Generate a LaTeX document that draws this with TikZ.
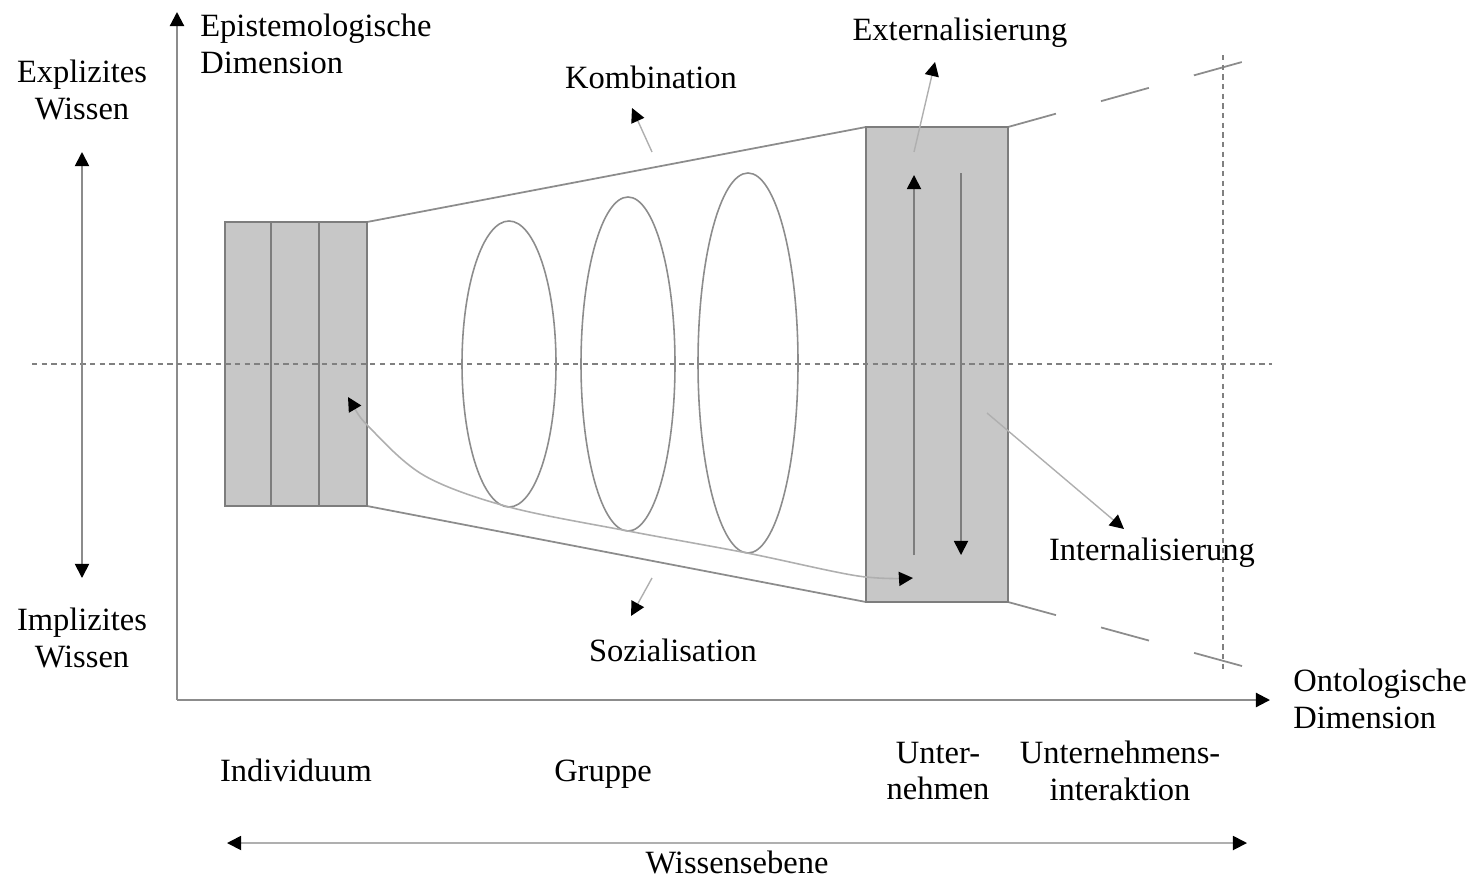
\documentclass[tikz,border=0pt]{standalone}
\usepackage{fontspec}
\setmainfont{Liberation Serif}
\usepackage{tikz}
\usetikzlibrary{arrows.meta}

\definecolor{axisgray}{RGB}{140,140,140}
\definecolor{linegray}{RGB}{140,140,140}
\definecolor{pointergray}{RGB}{175,175,175}
\definecolor{boxgray}{RGB}{199,199,199}
\definecolor{rimgray}{RGB}{125,125,125}

\tikzset{
  lbl/.style={font=\fontsize{18.5}{21}\selectfont, align=center, inner sep=0pt},
  tri/.tip={Triangle[length=8pt,width=8pt,color=black]},
  level/.style={draw=rimgray, line width=1.2pt, fill=boxgray},
  pointer/.style={draw=pointergray, line width=0.8pt, -{tri}},
  dotline/.style={gray, line width=0.7pt, dash pattern=on 3pt off 2.5pt},
}

\begin{document}
\begin{tikzpicture}[x=0.02cm, y=-0.02cm]
  \useasboundingbox (0,0) rectangle (1479,879);

  % axes
  \coordinate (O) at (177,700);
  \coordinate (Ytop) at (177,12);
  \coordinate (Xend) at (1270,700);
  \draw[axisgray, line width=1.2pt, -{tri}] (O) -- (Ytop);
  \draw[axisgray, line width=1.2pt, -{tri}] (O) -- (Xend);

  % funnel: left box (Individuum), right box (Unternehmen)
  \coordinate (LT) at (367,222);
  \coordinate (LB) at (367,506);
  \coordinate (RT) at (866,127);
  \coordinate (RB) at (866,602);
  \draw[linegray, line width=1pt] (LT) -- (RT);
  \draw[linegray, line width=1pt] (LB) -- (RB);
  \draw[linegray, line width=1pt, dash pattern=on 28.3pt off 26.6pt] (1008,127) -- (1242,62);
  \draw[linegray, line width=1pt, dash pattern=on 28.3pt off 26.6pt] (1008,602) -- (1242,666);

  \draw[level] (225,222) rectangle (367,506);
  \draw[rimgray, line width=1.2pt] (271,222) -- (271,506);
  \draw[rimgray, line width=1.2pt] (319,222) -- (319,506);
  \draw[level] (866,127) rectangle (1008,602);

  % dotted middle line and right border (on top of the boxes)
  \draw[dotline] (32,364) -- (1272,364);
  \draw[dotline] (1223,55) -- (1223,670);

  % groups
  \draw[linegray, line width=0.9pt] (509,364) ellipse (47 and 143);
  \draw[linegray, line width=0.9pt] (628,364) ellipse (47 and 167);
  \draw[linegray, line width=0.9pt] (748,363) ellipse (50 and 190);

  % arrows inside right box
  \draw[rimgray, line width=1pt, -{tri}] (914,555) -- (914,175);
  \draw[rimgray, line width=1pt, -{tri}] (961,173) -- (961,555);

  % curve from Unternehmen back to Individuum
  \coordinate (SozL) at (348,397);
  \coordinate (SozR) at (913,578);
  \draw[pointergray, line width=0.9pt, {tri}-{tri}] plot[smooth, tension=0.55]
    coordinates {(SozL) (372,430) (425,476) (509,507) (628,531) (747,553) (858,576) (SozR)};

  % text
  \node[lbl] (expl) at (82,90) {Explizites\\Wissen};
  \node[lbl] (impl) at (82,638) {Implizites\\Wissen};
  \draw[axisgray, line width=1pt, {tri}-{tri}] (82,152) -- (82,578);
  \node[lbl, anchor=west, align=left] (epi) at (200,44) {Epistemologische\\Dimension};
  \node[lbl, anchor=west, align=left] (onto) at (1293,699) {Ontologische\\Dimension};

  \node[lbl] (komb) at (651,77) {Kombination};
  \node[lbl] (ext) at (960,33) {Externalisierung};
  \node[lbl] (inter) at (1152,553) {Internalisierung};
  \node[lbl] (sozi) at (673,650) {Sozialisation};

  \coordinate (kombTip) at (632,108);
  \coordinate (extTip) at (935,62);
  \coordinate (interTip) at (1124,529);
  \coordinate (soziTip) at (631,616);
  \draw[pointer] (652,152) -- (kombTip);
  \draw[pointer] (914,152) -- (extTip);
  \draw[pointer] (987,413) -- (interTip);
  \draw[pointer] (652,578) -- (soziTip);

  % levels along the ontological axis
  \node[lbl, anchor=base] (indiv) at (296,781) {Individuum};
  \node[lbl, anchor=base] (grp) at (603,781) {Gruppe};
  \node[lbl] (untern) at (938,771) {Unter-\\nehmen};
  \node[lbl] (uinter) at (1120,771) {Unternehmens-\\interaktion};
  \node[lbl] (wiss) at (737,862) {Wissensebene};
  \draw[pointergray, line width=1pt, {tri}-{tri}] (227,843) -- (1247,843);
\end{tikzpicture}
\end{document}
